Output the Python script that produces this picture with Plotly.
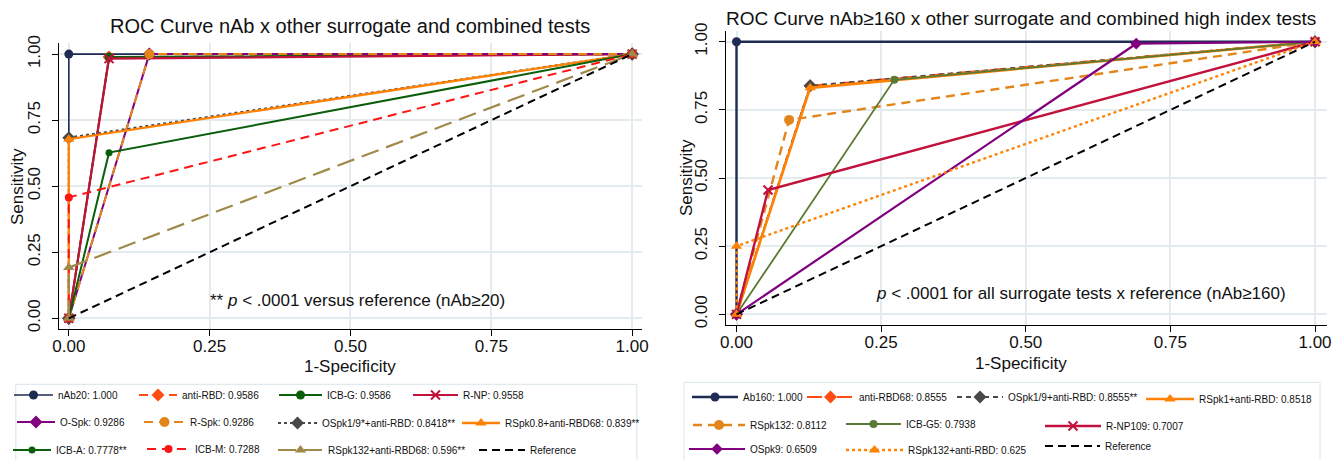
import plotly.graph_objects as go

W, H = 1343, 460          # browser window
OFF = 8                   # default page (body) margin of the html page
FIG_W, FIG_H = W - OFF, H - OFF

# ---------------- DATA ----------------
# Every empirical ROC curve runs from (0,0) through its cut-point (FPR, TPR) to (1,1)
roc_start = [0.0, 0.0]
roc_end = [1.0, 1.0]

# Left panel: nAb >= 20
left_names = ["nAb20: 1.000", "anti-RBD: 0.9586", "ICB-G: 0.9586", "R-NP: 0.9558",
              "O-Spk: 0.9286", "R-Spk: 0.9286", "OSpk1/9*+anti-RBD: 0.8418**",
              "RSpk0.8+anti-RBD68: 0.839**", "ICB-A: 0.7778**", "ICB-M: 0.7288",
              "RSpk132+anti-RBD68: 0.596**"]
left_fpr = [0.0, 0.0714, 0.0714, 0.0714, 0.1429, 0.1429, 0.0, 0.0, 0.0714, 0.0, 0.0]
left_tpr = [1.0, 0.9886, 0.9886, 0.983, 1.0, 1.0, 0.6836, 0.678, 0.627, 0.4576, 0.192]

# Right panel: nAb >= 160
right_names = ["Ab160: 1.000", "anti-RBD68: 0.8555", "OSpk1/9+anti-RBD: 0.8555**",
               "RSpk1+anti-RBD: 0.8518", "RSpk132: 0.8112", "ICB-G5: 0.7938",
               "R-NP109: 0.7007", "OSpk9: 0.6509", "RSpk132+anti-RBD: 0.625"]
right_fpr = [0.0, 0.1273, 0.1273, 0.1273, 0.0909, 0.2727, 0.0545, 0.6909, 0.0]
right_tpr = [1.0, 0.8383, 0.8383, 0.8309, 0.7133, 0.8603, 0.4559, 0.9927, 0.25]

ref_name = "Reference"
ref_x = [0.0, 1.0]
ref_y = [0.0, 1.0]

tick_vals = [0.0, 0.25, 0.5, 0.75, 1.0]
left_title = "ROC Curve nAb x other surrogate and combined tests"
right_title = "ROC Curve nAb\u2265160 x other surrogate and combined high index tests"
left_note = "** <i>p</i> < .0001 versus reference (nAb\u226520)"
right_note = "<i>p</i> < .0001 for all surrogate tests x reference (nAb\u2265160)"

# ---------------- STYLES ----------------
NAVY = "#1e2b52"
ORED = "#ff4d12"
DKGREEN = "#0b5e0b"
CRIMSON = "#c2113d"
PURPLE = "#800080"
DKORANGE = "#e2861c"
GRAY = "#484848"
ORANGE = "#ff8205"
RED = "#ff1414"
KHAKI = "#a08a4a"
OLIVE = "#5a7a34"

left_style = [  # color, dash, symbol, marker size, line width
    (NAVY, "solid", "circle", 9, 1.6),
    (ORED, "9px,6px", "diamond", 10, 2),
    (DKGREEN, "solid", "circle", 9, 2),
    (CRIMSON, "solid", "x-thin-open", 9, 2.2),
    (PURPLE, "solid", "diamond", 10, 2),
    (DKORANGE, "9px,6px", "circle", 10, 2),
    (GRAY, "3px,3px", "diamond", 10, 2.2),
    (ORANGE, "solid", "triangle-up", 10, 2.4),
    (DKGREEN, "solid", "circle", 7, 2),
    (RED, "9px,6px", "circle", 8, 2),
    (KHAKI, "18px,8px", "triangle-up", 10, 2.2),
]
right_style = [
    (NAVY, "solid", "circle", 9, 2.4),
    (ORED, "15px,6px,3px,6px", "diamond", 10, 2),
    (GRAY, "5px,4px", "diamond", 10, 2),
    (ORANGE, "solid", "triangle-up", 10, 2.6),
    (DKORANGE, "9px,6px", "circle", 10, 2.4),
    (OLIVE, "solid", "circle", 8, 1.8),
    (CRIMSON, "solid", "x-thin-open", 9, 2.4),
    (PURPLE, "solid", "diamond", 9, 2.2),
    (ORANGE, "3px,3px", "triangle-up", 10, 2.4),
]
REF_DASH = "8px,5px"

# legend item layout (window pixels): symbol start x, symbol end x, text start x, row centre y
left_leg = [(14, 52, 58, 395), (139, 177, 178, 395), (279, 317, 327, 395), (413, 451, 463, 395),
            (17, 55, 60, 422), (144, 181, 190, 422), (278, 315, 322, 423), (462, 500, 503, 423),
            (13, 49, 56, 450), (147, 183, 195, 449), (278, 316, 328, 450), (479, 517, 531, 450)]
right_leg = [(692, 738, 742, 397), (807, 853, 859, 397), (957, 1003, 1008, 397),
             (1146, 1193, 1199, 399), (693, 742, 750, 425), (846, 893, 915, 424),
             (1045, 1093, 1120, 426), (689, 737, 759, 449), (846, 895, 913, 450),
             (1045, 1092, 1120, 446)]

FONT = "Liberation Sans, Arial, Helvetica, sans-serif"
TXT = "#111111"


def px(x):
    return (x - OFF) / FIG_W


def py(y):
    return 1 - (y - OFF) / FIG_H


fig = go.Figure()
legends = {}
leg_count = [0]


def add_legend(spec):
    a, e, t, y = spec
    gap = t - e
    w = max(30, (e - a) + min(max(gap - 5, 0), 8))
    s = a - 5
    leg_count[0] += 1
    key = "legend" if leg_count[0] == 1 else f"legend{leg_count[0]}"
    legends[key] = dict(x=px(s), y=py(y), xanchor="left", yanchor="middle",
                        bgcolor="rgba(0,0,0,0)", borderwidth=0, itemwidth=w,
                        font=dict(family=FONT, size=10, color=TXT),
                        itemclick=False, itemdoubleclick=False)
    return key


def add_panel(names, fpr, tpr, styles, legspec, xa, ya):
    for i, name in enumerate(names):
        col, dash, sym, ms, lw = styles[i]
        xs = [roc_start[0], fpr[i], roc_end[0]]
        ys = [roc_start[1], tpr[i], roc_end[1]]
        open_sym = sym.endswith("open")
        fig.add_trace(go.Scatter(
            x=xs, y=ys, mode="lines+markers", name=name,
            line=dict(color=col, dash=dash, width=lw),
            marker=dict(symbol=sym, size=ms, color=col,
                        line=dict(color=col, width=2 if open_sym else 0)),
            xaxis=xa, yaxis=ya, legend=add_legend(legspec[i]), showlegend=True,
            cliponaxis=False))
    fig.add_trace(go.Scatter(
        x=ref_x, y=ref_y, mode="lines", name=ref_name,
        line=dict(color="black", dash=REF_DASH, width=2),
        xaxis=xa, yaxis=ya, legend=add_legend(legspec[len(names)]), showlegend=True))


add_panel(left_names, left_fpr, left_tpr, left_style, left_leg, "x", "y")
add_panel(right_names, right_fpr, right_tpr, right_style, right_leg, "x2", "y2")

axis_common = dict(
    tickvals=tick_vals, tickformat=".2f", showgrid=True, gridcolor="#e4ebef", gridwidth=1.6,
    zeroline=False, showline=True, linecolor="black", linewidth=1,
    ticks="outside", ticklen=6, tickcolor="black", tickwidth=1,
    tickfont=dict(family=FONT, size=17, color=TXT), fixedrange=True,
)

fig.update_layout(
    width=FIG_W, height=FIG_H, margin=dict(l=0, r=0, t=0, b=0, autoexpand=False),
    paper_bgcolor="white", plot_bgcolor="white",
    xaxis=dict(domain=[px(58.5), px(642.3)], range=[-0.0183, 1.018], anchor="y",
               ticklabelstandoff=-4, **axis_common),
    yaxis=dict(domain=[py(329), py(43)], range=[-0.0405, 1.042], anchor="x", tickangle=-90,
               ticklabelstandoff=5, **axis_common),
    xaxis2=dict(domain=[px(725.8), px(1326.6)], range=[-0.0185, 1.02], anchor="y2",
                ticklabelstandoff=-4, **axis_common),
    yaxis2=dict(domain=[py(325), py(31.1)], range=[-0.039, 1.039], anchor="x2", tickangle=-90,
                ticklabelstandoff=5, **axis_common),
    **legends,
)

ann = []
ann.append(dict(text=left_title, x=px(350), y=py(26), xref="paper", yref="paper",
                showarrow=False, xanchor="center", yanchor="middle",
                font=dict(family=FONT, size=20, color=TXT)))
ann.append(dict(text=right_title, x=px(1021), y=py(18.5), xref="paper", yref="paper",
                showarrow=False, xanchor="center", yanchor="middle",
                font=dict(family=FONT, size=19, color=TXT)))
for xc, yc in [(350, 366), (1021, 363)]:
    ann.append(dict(text="1-Specificity", x=px(xc), y=py(yc), xref="paper", yref="paper",
                    showarrow=False, xanchor="center", yanchor="middle",
                    font=dict(family=FONT, size=17, color=TXT)))
for xc, yc in [(17, 187), (686, 178)]:
    ann.append(dict(text="Sensitivity", x=px(xc), y=py(yc), xref="paper", yref="paper",
                    showarrow=False, xanchor="center", yanchor="middle", textangle=-90,
                    font=dict(family=FONT, size=17, color=TXT)))
ann.append(dict(text=left_note, x=0.513, y=0.067, xref="x", yref="y", showarrow=False,
                xanchor="center", yanchor="middle", font=dict(family=FONT, size=17, color=TXT)))
ann.append(dict(text=right_note, x=0.5955, y=0.077, xref="x2", yref="y2", showarrow=False,
                xanchor="center", yanchor="middle", font=dict(family=FONT, size=17, color=TXT)))
fig.update_layout(annotations=ann)

# legend frames
frame = "#d9e4ea"
fig.add_shape(type="rect", xref="paper", yref="paper", x0=px(15.8), x1=px(636.8),
              y0=py(384.3), y1=py(475), line=dict(color=frame, width=1), fillcolor="rgba(0,0,0,0)")
fig.add_shape(type="rect", xref="paper", yref="paper", x0=px(684), x1=px(1320),
              y0=py(382.3), y1=py(475), line=dict(color=frame, width=1), fillcolor="rgba(0,0,0,0)")

fig.write_html("out.html")
